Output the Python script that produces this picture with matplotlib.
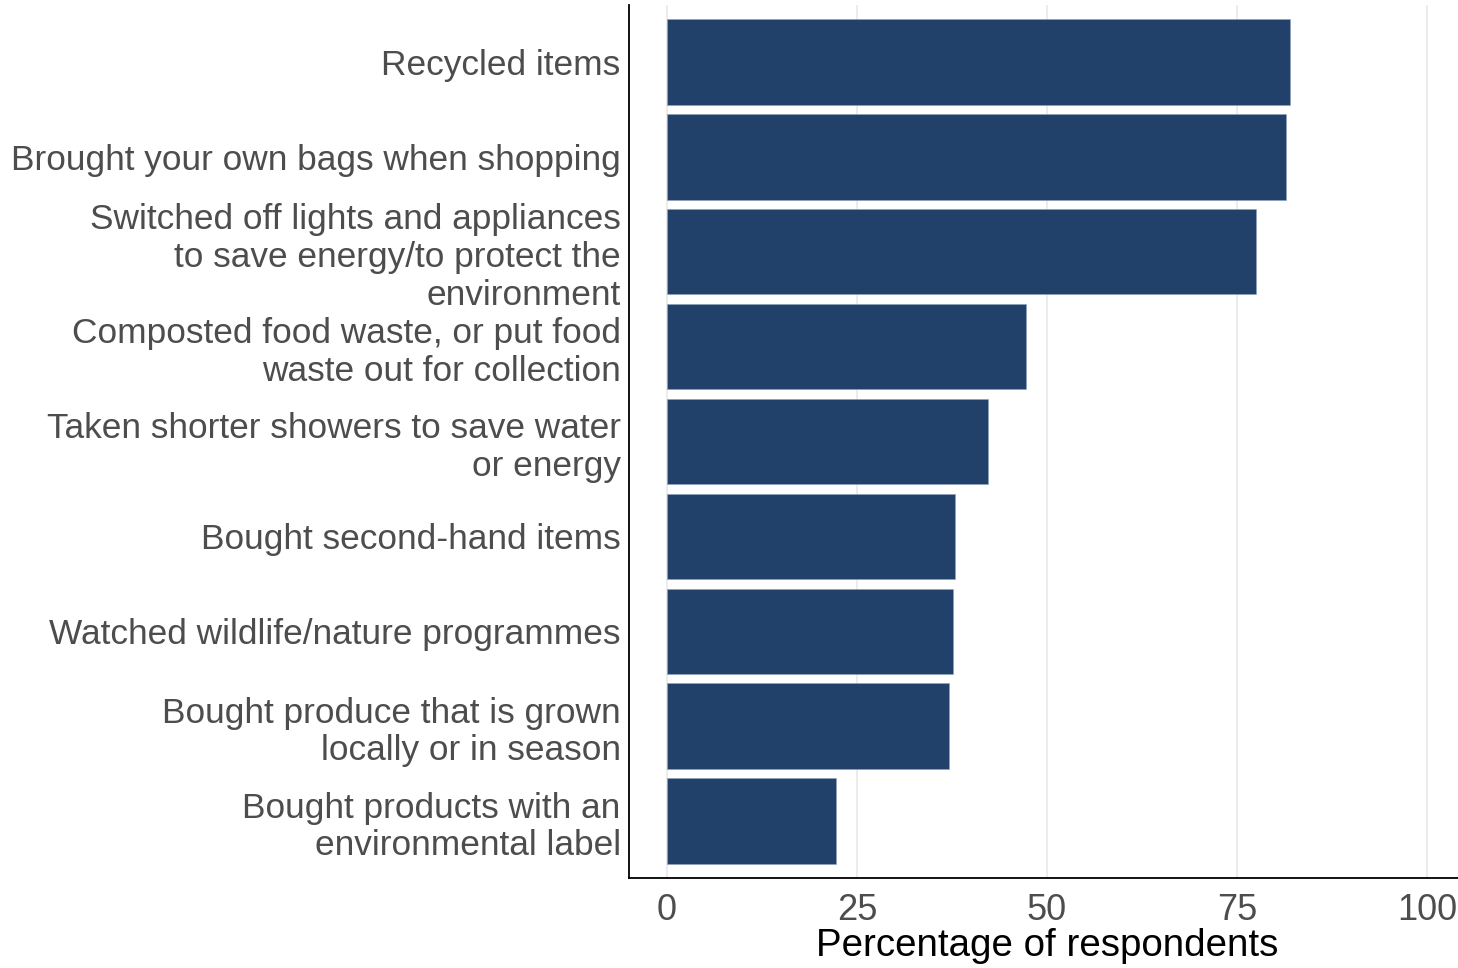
import matplotlib
import matplotlib.pyplot as plt

matplotlib.use("Agg")

BAR = "#22416a"
LABEL_GREY = "#4d4d4d"
GRID = "#ebebeb"

# Top to bottom as shown in the chart
actions = [
    "Recycled items",
    "Brought your own bags when shopping",
    "Switched off lights and appliances\nto save energy/to protect the\nenvironment",
    "Composted food waste, or put food\nwaste out for collection",
    "Taken shorter showers to save water\nor energy",
    "Bought second-hand items",
    "Watched wildlife/nature programmes",
    "Bought produce that is grown\nlocally or in season",
    "Bought products with an\nenvironmental label",
]
pct = [82.0, 81.4, 77.5, 47.2, 42.2, 37.9, 37.6, 37.1, 22.2]
xticks = [0, 25, 50, 75, 100]

plt.rcParams["font.family"] = ["Liberation Sans", "DejaVu Sans"]

fig = plt.figure(figsize=(14.58, 9.68), dpi=100)
# panel edges taken from the reference pixels (right edge runs just off-canvas)
ax = fig.add_axes([629 / 1458, 1 - 878 / 968, (1465 - 629) / 1458, (878 - 5) / 968])

n = len(actions)
ypos = list(range(n, 0, -1))
ax.barh(ypos, pct, height=0.9, color=BAR, edgecolor="#8fa3bd", linewidth=0.4, zorder=3)

ax.set_xlim(-5, 105)
ax.set_ylim(0.4, n + 0.6)
ax.set_xticks(xticks)
ax.set_xticklabels([str(t) for t in xticks])
ax.set_yticks(ypos)
ax.set_yticklabels(actions, linespacing=1.18)

ax.grid(axis="x", color=GRID, linewidth=1.3, zorder=0)
ax.grid(axis="y", visible=False)
ax.tick_params(axis="y", length=0, colors=LABEL_GREY, labelsize=25.4, pad=6)
ax.tick_params(axis="x", length=0, colors=LABEL_GREY, labelsize=26, pad=11)

for side in ("top", "right"):
    ax.spines[side].set_visible(False)
for side in ("left", "bottom"):
    ax.spines[side].set_color("black")
    ax.spines[side].set_linewidth(1.3)

ax.set_xlabel("Percentage of respondents", fontsize=27.7, color="black", labelpad=0)

fig.savefig("out.png", dpi=100, facecolor="white")
